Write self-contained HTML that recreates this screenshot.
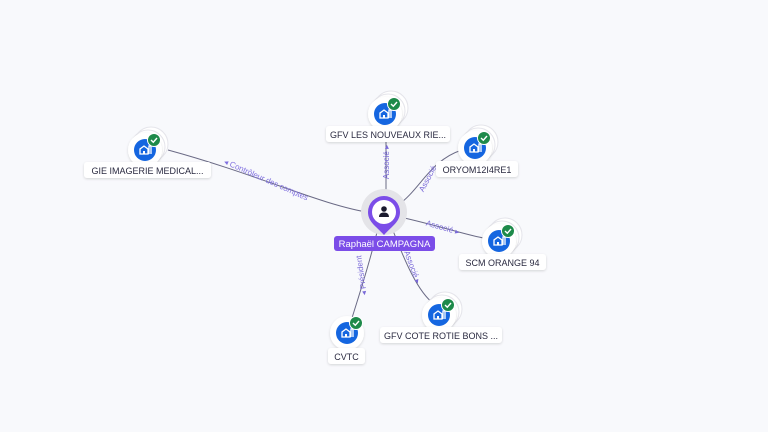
<!DOCTYPE html>
<html><head><meta charset="utf-8"><style>
html,body{margin:0;padding:0;background:#f8f9fc;}
svg{display:block}
text{font-family:"Liberation Sans",sans-serif;}
</style></head><body>
<svg width="768" height="432" viewBox="0 0 768 432" xmlns="http://www.w3.org/2000/svg">
<defs>
<filter id="sh" x="-30%" y="-30%" width="160%" height="160%"><feDropShadow dx="0" dy="1" stdDeviation="1.2" flood-color="#000" flood-opacity="0.15"/></filter>
<g id="co">
<circle cx="6" cy="-6" r="17" fill="#fff" stroke="#e4e4ea"/>
<circle cx="3" cy="-3" r="17" fill="#fff" stroke="#e4e4ea"/>
<circle cx="0" cy="0" r="17" fill="#fff" filter="url(#sh)"/>
<circle cx="0" cy="0" r="11" fill="#1566e0"/>
<path d="M-5,4 V-1 L-1,-4 L3,-1 V4 Z M4,4 V-4 H6 V4" fill="none" stroke="#fff" stroke-width="1.3"/>
<rect x="-2" y="1" width="2" height="3" fill="#fff"/>
<circle cx="9" cy="-10" r="6.5" fill="#1e8a4a" stroke="#fff" stroke-width="1"/>
<path d="M6,-10 L8.3,-7.8 L12,-12" fill="none" stroke="#fff" stroke-width="1.4"/>
</g>
<g id="co1">
<circle cx="0" cy="0" r="17" fill="#fff" filter="url(#sh)"/>
<circle cx="0" cy="0" r="11" fill="#1566e0"/>
<path d="M-5,4 V-1 L-1,-4 L3,-1 V4 Z M4,4 V-4 H6 V4" fill="none" stroke="#fff" stroke-width="1.3"/>
<rect x="-2" y="1" width="2" height="3" fill="#fff"/>
<circle cx="9" cy="-10" r="6.5" fill="#1e8a4a" stroke="#fff" stroke-width="1"/>
<path d="M6,-10 L8.3,-7.8 L12,-12" fill="none" stroke="#fff" stroke-width="1.4"/>
</g>
</defs>
<g fill="none" stroke="#6a6a85" stroke-width="1">
<path d="M372,213 C 320,205 260,175 168,150"/>
<path d="M386,196 V 128"/>
<path d="M398,205 C 420,190 430,160 462,150"/>
<path d="M400,217 C 440,226 470,236 484,238"/>
<path d="M392,228 C 405,262 418,292 434,304"/>
<path d="M378,228 C 370,262 360,292 352,318"/>
</g>
<g fill="#7a6ad8" font-size="8">
<text transform="translate(265,182) rotate(24)" text-anchor="middle" fill="#8070e0">◂ Contrôleur des comptes</text>
<text transform="translate(389,162) rotate(-90)" text-anchor="middle">Associé ▸</text>
<text transform="translate(430,180) rotate(-62)" text-anchor="middle">Associé</text>
<text transform="translate(442,230) rotate(16)" text-anchor="middle">Associé ▸</text>
<text transform="translate(410,268) rotate(70)" text-anchor="middle">Associé ▸</text>
<text transform="translate(364,275) rotate(-98)" text-anchor="middle">◂ Président</text>
</g>
<!-- center -->
<circle cx="384" cy="212" r="23" fill="#e4e4e8"/>
<path d="M368,212 A16,16 0 1 1 400,212 C400,222 392,226 384,235 C376,226 368,222 368,212 Z" fill="#7b4de8"/>
<circle cx="384" cy="212" r="12" fill="#fff"/>
<circle cx="384" cy="209" r="2.8" fill="#1a1a2e"/>
<path d="M379,217 Q379,212.5 384,212.5 Q389,212.5 389,217 Z" fill="#1a1a2e"/>
<rect x="334" y="236" width="101" height="15" rx="3" fill="#7b4de8"/>
<text x="384.5" y="247" text-anchor="middle" font-size="9.5" fill="#fff">Raphaël CAMPAGNA</text>
<!-- nodes -->
<use href="#co" x="145" y="150"/>
<use href="#co" x="385" y="114"/>
<use href="#co" x="475" y="148"/>
<use href="#co" x="499" y="241"/>
<use href="#co" x="439" y="315"/>
<use href="#co1" x="347" y="333"/>
<g font-size="9" fill="#2a2a40" text-anchor="middle">
<rect x="84" y="162" width="127" height="16" rx="3" fill="#fff" filter="url(#sh)"/>
<text x="147.5" y="174">GIE IMAGERIE MEDICAL...</text>
<rect x="326" y="126" width="124" height="16" rx="3" fill="#fff" filter="url(#sh)"/>
<text x="388" y="138">GFV LES NOUVEAUX RIE...</text>
<rect x="436" y="161" width="82" height="16" rx="3" fill="#fff" filter="url(#sh)"/>
<text x="477" y="173">ORYOM12I4RE1</text>
<rect x="459" y="254" width="87" height="16" rx="3" fill="#fff" filter="url(#sh)"/>
<text x="502.5" y="266">SCM ORANGE 94</text>
<rect x="380" y="327" width="122" height="16" rx="3" fill="#fff" filter="url(#sh)"/>
<text x="441" y="339">GFV COTE ROTIE BONS ...</text>
<rect x="328" y="348" width="37" height="16" rx="3" fill="#fff" filter="url(#sh)"/>
<text x="346.5" y="360">CVTC</text>
</g>
</svg>
</body></html>
